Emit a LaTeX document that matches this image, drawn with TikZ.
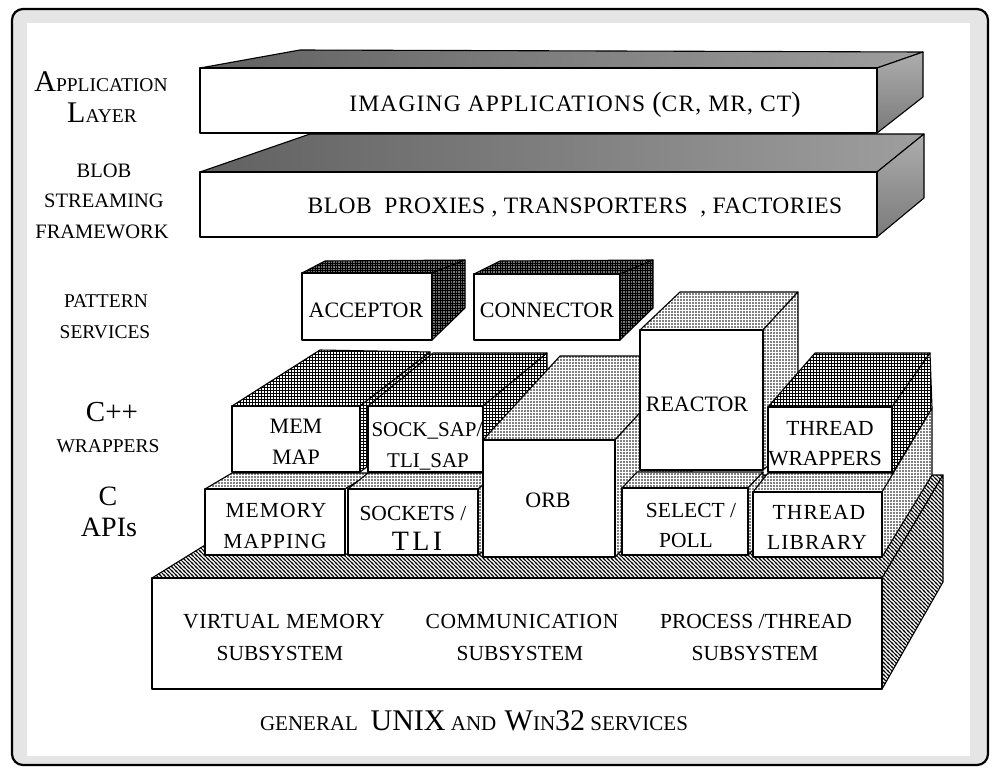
\documentclass[tikz,border=0pt]{standalone}
\usepackage{fontspec}
\setmainfont{Liberation Serif}
\usetikzlibrary{patterns}

\newcommand\fsz[1]{\fontsize{#1}{#1}\selectfont}
\newcommand\trk[1]{\addfontfeature{LetterSpace=#1}}

% dense black mesh for the pattern-service boxes
\pgfdeclarepatternformonly{darkmesh}{\pgfqpoint{-1pt}{-1pt}}{\pgfqpoint{3.5pt}{3.5pt}}{\pgfqpoint{2.5pt}{2.5pt}}{
  \pgfsetlinewidth{1pt}
  \pgfpathmoveto{\pgfqpoint{0pt}{0pt}}\pgfpathlineto{\pgfqpoint{2.5pt}{0pt}}
  \pgfpathmoveto{\pgfqpoint{0pt}{0pt}}\pgfpathlineto{\pgfqpoint{0pt}{2.5pt}}
  \pgfusepath{stroke}}
% lighter mesh for the C++ wrapper boxes
\pgfdeclarepatternformonly{finemesh}{\pgfqpoint{-1pt}{-1pt}}{\pgfqpoint{4pt}{4pt}}{\pgfqpoint{3pt}{3pt}}{
  \pgfsetlinewidth{0.42pt}
  \pgfpathmoveto{\pgfqpoint{0pt}{0pt}}\pgfpathlineto{\pgfqpoint{3pt}{0pt}}
  \pgfpathmoveto{\pgfqpoint{0pt}{0pt}}\pgfpathlineto{\pgfqpoint{0pt}{3pt}}
  \pgfusepath{stroke}}
% dot screen for the C API boxes, ORB and REACTOR
\pgfdeclarepatternformonly{dotscreen}{\pgfqpoint{-1pt}{-1pt}}{\pgfqpoint{4pt}{4pt}}{\pgfqpoint{3pt}{3pt}}{
  \pgfpathcircle{\pgfqpoint{0pt}{0pt}}{0.85pt}
  \pgfusepath{fill}}
% diagonal hatching for the OS services base
\pgfdeclarepatternformonly{backhatch}{\pgfqpoint{-1pt}{-1pt}}{\pgfqpoint{5pt}{5pt}}{\pgfqpoint{4pt}{4pt}}{
  \pgfsetlinewidth{0.75pt}
  \pgfpathmoveto{\pgfqpoint{0pt}{4pt}}\pgfpathlineto{\pgfqpoint{4.1pt}{-0.1pt}}
  \pgfpathmoveto{\pgfqpoint{-1pt}{1pt}}\pgfpathlineto{\pgfqpoint{1pt}{-1pt}}
  \pgfpathmoveto{\pgfqpoint{3pt}{5pt}}\pgfpathlineto{\pgfqpoint{5pt}{3pt}}
  \pgfusepath{stroke}}

\tikzset{
  edge/.style={draw=black, line width=1.1pt, line join=round},
  face/.style={edge, fill=white},
  slabtop/.style={edge, left color=black!62, right color=black!38},
  slabside/.style={edge, top color=black!32, bottom color=black!52},
  darkside/.style={edge, pattern=darkmesh, preaction={fill=black!55}},
  meshside/.style={edge, pattern=finemesh, preaction={fill=white}},
  dotside/.style={edge, pattern=dotscreen, preaction={fill=white}},
  hatchside/.style={edge, pattern=backhatch, preaction={fill=white}},
  lbl/.style={anchor=base, inner sep=0pt},
}

\begin{document}
\begin{tikzpicture}[x=1pt,y=-1pt]
\useasboundingbox (0,0) rectangle (992,771);
\fill[white] (0,0) rectangle (992,771);

% page frame with its grey inner margin
\fill[gray!20, rounded corners=11pt] (12,9) rectangle (988,765);
\fill[white] (27,23) rectangle (970,756);
\draw[line width=2.2pt, rounded corners=11pt] (12,9) rectangle (988,765);

% ---- blob streaming slab
\path[slabtop] (200,172) -- (310,134) -- (924,134) -- (877,172) -- cycle;
\path[slabside] (877,172) -- (924,134) -- (924,198) -- (877,237) -- cycle;
\path[face] (200,172) rectangle (877,237);
% ---- application slab
\path[slabtop] (200,68) -- (300,50) -- (923,52) -- (877,68) -- cycle;
\path[slabside] (877,68) -- (923,52) -- (923,97) -- (877,133) -- cycle;
\path[face] (200,68) rectangle (877,133);

% ---- pattern services
\path[darkside] (302,273) -- (325,261) -- (465,260) -- (432,273) -- cycle;
\path[darkside] (432,273) -- (465,260) -- (465,308) -- (432,340) -- cycle;
\path[face] (302,273) rectangle (432,340);
\path[darkside] (474,274) -- (500,261) -- (653,260) -- (620,274) -- cycle;
\path[darkside] (620,274) -- (653,260) -- (653,308) -- (620,340) -- cycle;
\path[face] (474,274) rectangle (620,340);

% ---- OS services base
\path[hatchside] (152,578) -- (318,475) -- (943,475) -- (882,578) -- cycle;
\path[hatchside] (882,578) -- (943,475) -- (943,582) -- (882,689) -- cycle;
\path[face] (152,578) rectangle (882,689);

% ---- C APIs (left)
\path[dotside] (205,489) -- (232,473) -- (372,473) -- (345,489) -- cycle;
\path[dotside] (345,489) -- (372,473) -- (372,540) -- (345,555) -- cycle;
\path[face] (205,489) rectangle (345,555);
\path[dotside] (348,489) -- (368,473) -- (498,473) -- (478,489) -- cycle;
\path[dotside] (478,489) -- (498,473) -- (498,540) -- (478,555) -- cycle;
\path[face] (348,489) rectangle (478,555);

% ---- C++ wrappers (left)
\path[meshside] (232,406) -- (320,350) -- (430,352) -- (360,406) -- cycle;
\path[meshside] (360,406) -- (430,352) -- (430,420) -- (360,472) -- cycle;
\path[face] (232,406) rectangle (360,472);
\path[meshside] (368,406) -- (433,353) -- (547,353) -- (483,406) -- cycle;
\path[meshside] (483,406) -- (547,353) -- (547,420) -- (483,472) -- cycle;
\path[face] (368,406) rectangle (483,472);

% ---- ORB
\path[dotside] (483,440) -- (560,356) -- (692,356) -- (615,440) -- cycle;
\path[dotside] (615,440) -- (692,356) -- (692,480) -- (615,557) -- cycle;
\path[face] (483,440) rectangle (615,557);

% ---- SELECT / POLL
\path[dotside] (622,488) -- (637,472) -- (763,472) -- (748,488) -- cycle;
\path[dotside] (748,488) -- (763,472) -- (763,540) -- (748,555) -- cycle;
\path[face] (622,488) rectangle (748,555);

% ---- REACTOR
\path[dotside] (640,330) -- (680,292) -- (798,292) -- (763,330) -- cycle;
\path[dotside] (763,330) -- (798,292) -- (798,440) -- (763,470) -- cycle;
\path[face] (640,330) rectangle (763,470);

% ---- THREAD LIBRARY
\path[dotside] (753,492) -- (768,473) -- (897,473) -- (882,492) -- cycle;
\path[dotside] (882,492) -- (932,408) -- (932,475) -- (882,557) -- cycle;
\path[face] (753,492) rectangle (882,557);

% ---- THREAD WRAPPERS
\path[meshside] (768,407) -- (815,353) -- (930,353) -- (892,407) -- cycle;
\path[meshside] (892,407) -- (930,353) -- (932,408) -- (892,474) -- cycle;
\path[face] (768,407) rectangle (892,472);

% ---- layer names
\node[lbl] (appA) at (101,91) {{\fsz{30}A}{\fsz{19.5}PPLICATION}};
\node[lbl] (appB) at (102,122) {{\fsz{30}L}{\fsz{19.5}AYER}};
\node[lbl] (blobA) at (104,177) {\fsz{20.5}BLOB};
\node[lbl] (blobB) at (104,207) {\fsz{20.5}STREAMING};
\node[lbl] (blobC) at (102,238) {\fsz{20.5}FRAMEWORK};
\node[lbl] (patA) at (106,307) {\fsz{19.5}PATTERN};
\node[lbl] (patB) at (105,338) {\fsz{19.5}SERVICES};
\node[lbl] (cppA) at (112,421) {\fsz{29}C++};
\node[lbl] (cppB) at (108,452) {\fsz{19.5}WRAPPERS};
\node[lbl] (capiA) at (108,505) {\fsz{28}C};
\node[lbl] (capiB) at (109,536) {\fsz{28}APIs};

% ---- box texts
\node[lbl] (imaging) at (575,111) {\fsz{23.5}\trk{5}IMAGING APPLICATIONS {\fsz{28}(}CR, MR, CT{\fsz{28})}};
\node[lbl] (blobtxt) at (575,213) {\fsz{23.5}\trk{2}BLOB\ \ PROXIES , TRANSPORTERS\ \ , FACTORIES};
\node[lbl] (acceptor) at (366,317) {\fsz{22}ACCEPTOR};
\node[lbl] (connector) at (547,317) {\fsz{22}CONNECTOR};
\node[lbl] (memA) at (296,433) {\fsz{22}MEM};
\node[lbl] (memB) at (296,464) {\fsz{22}MAP};
\node[lbl] (sapA) at (427,436) {\fsz{21}SOCK\_SAP/};
\node[lbl] (sapB) at (428,467) {\fsz{21}TLI\_SAP};
\node[lbl] (mmA) at (276,517) {\fsz{21.5}\trk{5}MEMORY};
\node[lbl] (mmB) at (275,548) {\fsz{21.5}\trk{5}MAPPING};
\node[lbl] (sockA) at (413,520) {\fsz{21.5}SOCKETS /};
\node[lbl] (sockB) at (417,550) {\fsz{28}\trk{12}TLI};
\node[lbl] (orb) at (548,507) {\fsz{22}ORB};
\node[lbl] (reactor) at (697,411) {\fsz{22}REACTOR};
\node[lbl] (twA) at (830,435) {\fsz{21.5}THREAD};
\node[lbl] (twB) at (825,465) {\fsz{21.5}WRAPPERS};
\node[lbl] (selA) at (691,517) {\fsz{21.5}SELECT /};
\node[lbl] (selB) at (686,547) {\fsz{21.5}POLL};
\node[lbl] (tlA) at (819,519) {\fsz{21.5}\trk{5}THREAD};
\node[lbl] (tlB) at (817,549) {\fsz{21.5}\trk{5}LIBRARY};
\node[lbl] (vmA) at (284,628) {\fsz{21.5}\trk{3}VIRTUAL MEMORY};
\node[lbl] (vmB) at (280,660) {\fsz{21.5}SUBSYSTEM};
\node[lbl] (cmA) at (522,628) {\fsz{21.5}\trk{3}COMMUNICATION};
\node[lbl] (cmB) at (520,660) {\fsz{21.5}SUBSYSTEM};
\node[lbl] (ptA) at (756,628) {\fsz{21.5}PROCESS /THREAD};
\node[lbl] (ptB) at (755,660) {\fsz{21.5}SUBSYSTEM};

% ---- caption
\node[lbl] (caption) at (474,730) {\fsz{21}GENERAL\hspace{0.6em}{\fsz{30}UNIX} AND\hspace{0.4em}{\fsz{30}W}IN{\fsz{30}32} SERVICES};
\end{tikzpicture}
\end{document}
